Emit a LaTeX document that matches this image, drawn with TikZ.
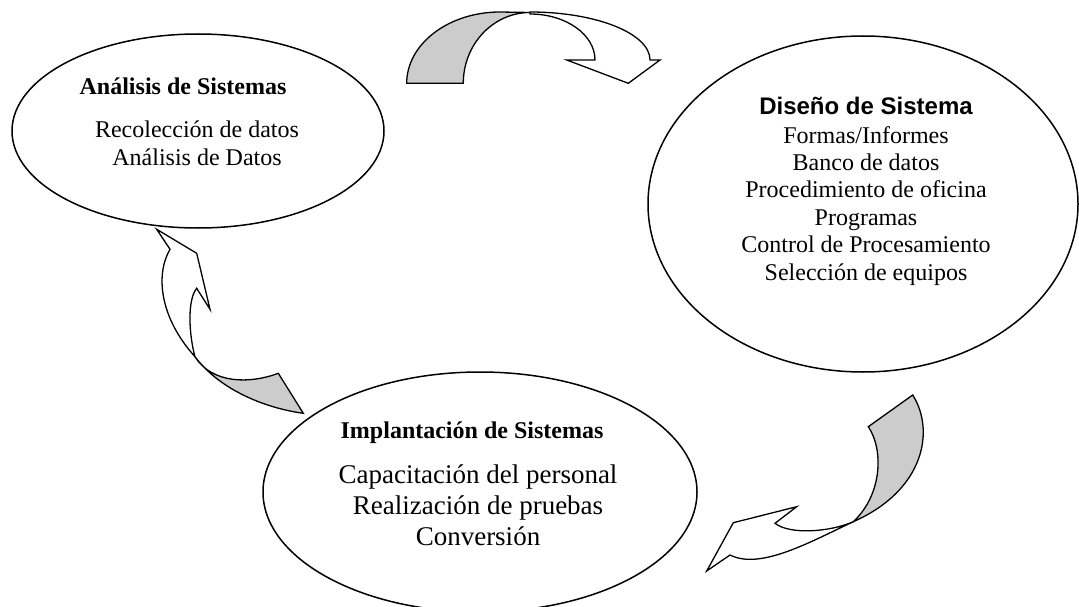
\documentclass[tikz,border=0pt]{standalone}
\usepackage{fontspec}
\setmainfont{Liberation Serif}
\newfontfamily\arialfont{Liberation Sans}
\usetikzlibrary{shapes.geometric}
\begin{document}
\begin{tikzpicture}[x=1pt,y=-1pt,
  bubble/.style={draw=black,line width=1.5pt,ellipse,inner sep=0pt,fill=white},
  title/.style={anchor=base,inner sep=0pt,font=\fontsize{24}{27}\selectfont\bfseries},
  body/.style={anchor=base,inner sep=0pt,font=\fontsize{24}{27}\selectfont},
  bigbody/.style={anchor=base,inner sep=0pt,font=\fontsize{27}{31}\selectfont},
  back/.style={fill=black!20,draw=black,line width=1.3pt,line join=miter},
  front/.style={fill=white,draw=black,line width=1.3pt,line join=miter}]
\useasboundingbox (0,0) rectangle (1079,607);

% ellipses
\node[bubble,minimum width=372pt,minimum height=194pt] (ana) at (198,131) {};
\node[bubble,minimum width=430pt,minimum height=336pt] (dis) at (863,204) {};
\node[bubble,minimum width=434pt,minimum height=240pt] (imp) at (480,492) {};

% texts
\node[title] (anaT) at (183,95) {Análisis de Sistemas};
\node[body] (ana1) at (197,138) {Recolección de datos};
\node[body] (ana2) at (197,165) {Análisis de Datos};

\node[title,font=\fontsize{24}{27}\selectfont\arialfont\bfseries] (disT) at (866,115) {Diseño de Sistema};
\node[body] (dis1) at (866,143) {Formas/Informes};
\node[body] (dis2) at (866,170.4) {Banco de datos};
\node[body] (dis3) at (866,197.8) {Procedimiento de oficina};
\node[body] (dis4) at (866,225.2) {Programas};
\node[body] (dis5) at (866,252.6) {Control de Procesamiento};
\node[body] (dis6) at (866,280) {Selección de equipos};

\node[title] (impT) at (472,438) {Implantación de Sistemas};
\node[bigbody] (imp1) at (478,483) {Capacitación del personal};
\node[bigbody] (imp2) at (478,514) {Realización de pruebas};
\node[bigbody] (imp3) at (478,545) {Conversión};

% top curved arrow (analysis -> design)
\coordinate (tP) at (530,12.5);
\path[back] (406.7,83.3) .. controls (406.7,44) and (448.5,12) .. (500,12) -- (tP)
  .. controls (493.2,12.5) and (463.3,44.2) .. (463.3,83.3) -- cycle;
\path[front] (tP) -- (530,12) .. controls (596.3,12) and (650,33.5) .. (650,60)
  -- (660,60) -- (628.3,83.3) -- (566.7,60) -- (595,60)
  .. controls (595,34.6) and (565.9,14) .. (530,14) -- cycle;

% right curved arrow (design -> implantation)
\coordinate (rC) at (853.3,521.7);
\path[back] (912.7,395) .. controls (935,430) and (925,490) .. (rC)
  .. controls (882,495) and (884,450) .. (868.3,426.7) -- cycle;
\path[front] (rC) .. controls (808,543) and (760,570) .. (730,555)
  -- (706.7,571) -- (733.3,522.7) -- (796.7,506.7) -- (775,523.3)
  .. controls (790,535) and (830,532) .. (rC) -- cycle;

% left curved arrow (implantation -> analysis)
\coordinate (lC) at (195,356.7);
\path[back] (303.3,413.3) .. controls (265,408) and (220,390) .. (lC)
  .. controls (212,384) and (250,384) .. (278.3,373.3) -- cycle;
\path[front] (lC) .. controls (160,318) and (155,275) .. (170,249.3)
  -- (156.7,229.3) -- (196.7,253.3) -- (210,309.3) -- (196.7,288.3)
  .. controls (187,300) and (189,335) .. (lC) -- cycle;
\end{tikzpicture}
\end{document}
